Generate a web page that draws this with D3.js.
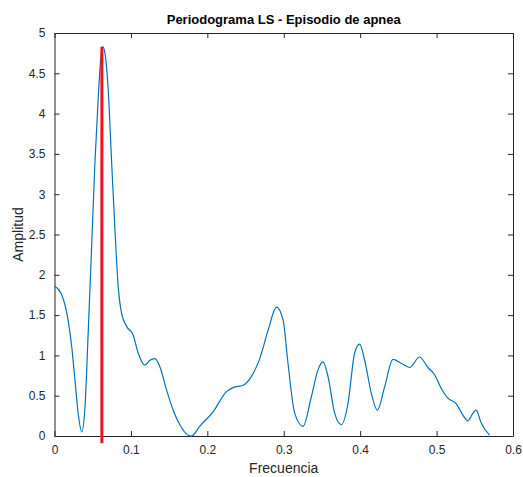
<!DOCTYPE html>
<html><head><meta charset="utf-8">
<script src="https://cdn.jsdelivr.net/npm/d3@7"></script>
<style>body{margin:0;background:#fff}svg{display:block}text{font-family:"Liberation Sans",Arial,sans-serif}</style>
</head><body>
<svg id="c" width="523" height="477"></svg>
<script>
const freq = [0.000,0.0085,0.016,0.0225,0.0268,0.031,0.0356,0.0399,0.0442,0.0486,0.0529,0.0573,0.0608,0.063,0.066,0.0703,0.0748,0.0791,0.0834,0.0878,0.0944,0.103,0.1095,0.1183,0.1248,0.1314,0.1379,0.1467,0.1553,0.164,0.1749,0.1793,0.19,0.2076,0.2251,0.2337,0.2468,0.2578,0.2686,0.2795,0.2905,0.2991,0.3056,0.3144,0.3252,0.3362,0.3448,0.3514,0.3579,0.3667,0.3754,0.384,0.3928,0.3993,0.4059,0.4146,0.4225,0.432,0.4429,0.4539,0.4647,0.4778,0.4886,0.4974,0.5061,0.5148,0.5258,0.5344,0.5409,0.5475,0.5519,0.5584,0.5693];
const amp = [1.86,1.77,1.53,1.11,0.69,0.28,0.05,0.36,1.31,2.35,3.39,4.21,4.71,4.83,4.75,4.29,3.39,2.56,1.85,1.52,1.36,1.25,1.03,0.88,0.94,0.96,0.86,0.57,0.32,0.14,0.01,0.0,0.12,0.30,0.55,0.60,0.63,0.74,0.96,1.31,1.60,1.44,0.90,0.28,0.12,0.49,0.82,0.92,0.74,0.28,0.14,0.40,1.03,1.14,0.94,0.53,0.32,0.61,0.95,0.90,0.85,0.98,0.85,0.76,0.59,0.47,0.40,0.26,0.19,0.28,0.32,0.16,0.01];
const peakFreq = [0.062];
const peakLine = [-0.09, 4.83];
const xTicks = [0,0.1,0.2,0.3,0.4,0.5,0.6];
const yTicks = [0,0.5,1,1.5,2,2.5,3,3.5,4,4.5,5];
const title = "Periodograma LS - Episodio de apnea";
const xLabel = "Frecuencia";
const yLabel = "Amplitud";

const svg = d3.select("#c");
const L = 54.5, R = 513, T = 33, B = 436;
const x = d3.scaleLinear().domain([0,0.6]).range([L,R]);
const y = d3.scaleLinear().domain([0,5]).range([B,T]);
const axCol = "#262626";

const gx = svg.append("g").attr("transform",`translate(0,${B})`)
  .call(d3.axisBottom(x).tickValues(xTicks).tickFormat(d=>String(d)).tickSizeInner(-5).tickSizeOuter(0).tickPadding(9));
const gxt = svg.append("g").attr("transform",`translate(0,${T})`)
  .call(d3.axisTop(x).tickValues(xTicks).tickFormat("").tickSizeInner(-5).tickSizeOuter(0));
const gy = svg.append("g").attr("transform",`translate(${L},0)`)
  .call(d3.axisLeft(y).tickValues(yTicks).tickFormat(d=>String(d)).tickSizeInner(-5).tickSizeOuter(0).tickPadding(9));
const gyr = svg.append("g").attr("transform",`translate(${R},0)`)
  .call(d3.axisRight(y).tickValues(yTicks).tickFormat("").tickSizeInner(-5).tickSizeOuter(0));
[gx,gxt,gy,gyr].forEach(g=>{
  g.selectAll("path.domain").attr("stroke",axCol).attr("stroke-width",1);
  g.selectAll(".tick line").attr("stroke",axCol);
  g.selectAll("text").attr("fill",axCol).style("font-size","12px").style("font-family","'Liberation Sans',Arial,sans-serif");
});

const data = freq.map((f,i)=>[f,amp[i]]);
const line = d3.line().x(d=>x(d[0])).y(d=>y(d[1])).curve(d3.curveMonotoneX);
svg.append("path").datum(data).attr("d",line).attr("fill","none").attr("stroke","#0072BD").attr("stroke-width",1.2);

svg.append("line").attr("x1",x(peakFreq[0])).attr("x2",x(peakFreq[0]))
  .attr("y1",y(peakLine[0])).attr("y2",y(peakLine[1]))
  .attr("stroke","#F0141E").attr("stroke-width",3);

svg.append("text").attr("x",(L+R)/2).attr("y",24).attr("text-anchor","middle")
  .style("font-size","13px").style("font-weight","bold").attr("fill","#000").text(title);
svg.append("text").attr("x",(L+R)/2).attr("y",473).attr("text-anchor","middle")
  .style("font-size","14px").attr("fill",axCol).text(xLabel);
svg.append("text").attr("transform",`translate(23,${(T+B)/2}) rotate(-90)`).attr("text-anchor","middle")
  .style("font-size","14px").attr("fill",axCol).text(yLabel);
</script>
</body></html>
